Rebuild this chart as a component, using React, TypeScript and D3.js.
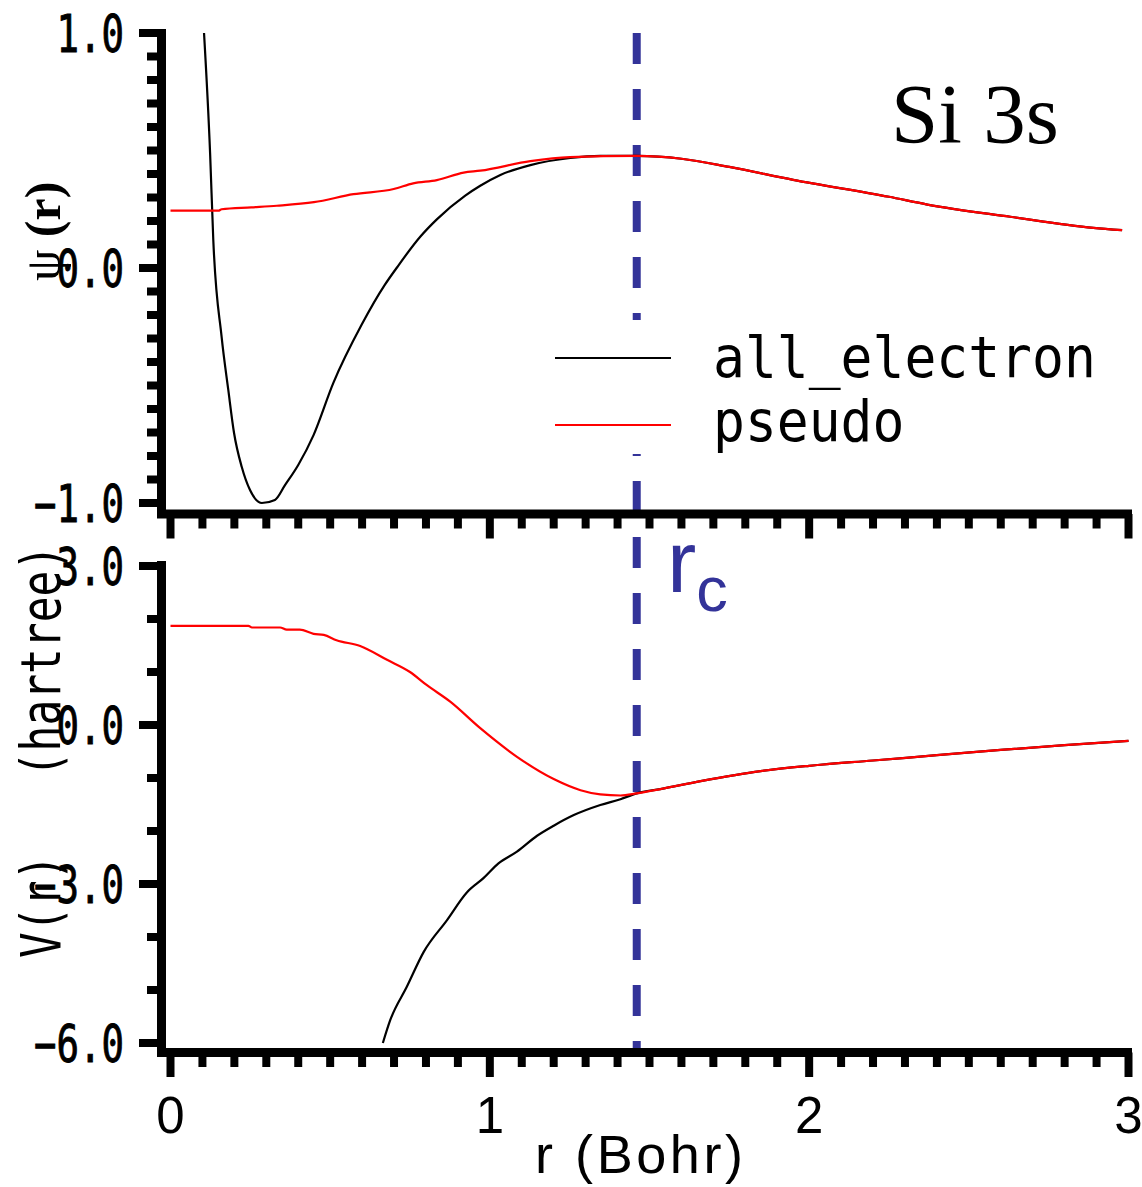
// Si 3s pseudopotential figure: wave function (top) and potential (bottom)
import React from "react";
import * as d3 from "d3";

// --- data ---
// top panel, psi(r)
const aePsiR = [0.105, 0.124, 0.134, 0.16, 0.181, 0.199, 0.223, 0.249, 0.286, 0.327, 0.359, 0.4, 0.448, 0.51, 0.598, 0.671, 0.708, 0.782, 0.834, 0.923, 0.97, 1.033, 1.127, 1.252, 1.346, 1.46];
const aePsi = [1.0, 0.489, 0.119, -0.292, -0.519, -0.702, -0.846, -0.945, -1.0, -0.987, -0.923, -0.838, -0.711, -0.489, -0.243, -0.072, 0.0, 0.133, 0.207, 0.308, 0.35, 0.396, 0.438, 0.468, 0.477, 0.477];
const psPsiR = [0, 0.15, 0.16, 0.253, 0.333, 0.449, 0.573, 0.699, 0.76, 0.834, 0.918, 0.97, 1.127, 1.25, 1.46];
const psPsi = [0.244, 0.244, 0.25, 0.258, 0.265, 0.28, 0.314, 0.336, 0.36, 0.374, 0.406, 0.414, 0.455, 0.472, 0.477];
// beyond rc both wave functions coincide
const tailPsiR = [1.6, 1.75, 1.95, 2.25, 2.37, 2.63, 2.89, 2.98];
const tailPsi = [0.465, 0.43, 0.375, 0.303, 0.27, 0.218, 0.171, 0.161];

// bottom panel, V(r) in hartree
const aeVR = [0.665, 0.688, 0.74, 0.793, 0.866, 0.928, 0.98, 1.027, 1.085, 1.148, 1.2, 1.263, 1.346, 1.409, 1.46];
const aeV = [-6.0, -5.57, -4.94, -4.28, -3.68, -3.16, -2.89, -2.61, -2.39, -2.09, -1.9, -1.7, -1.51, -1.4, -1.29];
const psVR = [0, 0.244, 0.255, 0.343, 0.364, 0.405, 0.448, 0.48, 0.52, 0.594, 0.678, 0.75, 0.802, 0.876, 0.97, 1.085, 1.2, 1.284, 1.346, 1.409, 1.46];
const psV = [1.87, 1.87, 1.84, 1.84, 1.8, 1.8, 1.72, 1.7, 1.6, 1.49, 1.23, 1.0, 0.755, 0.44, -0.06, -0.6, -1.02, -1.23, -1.31, -1.33, -1.29];
const tailVR = [1.534, 1.66, 1.848, 2.0, 2.2, 2.4, 2.6, 2.8, 3.0];
const tailV = [-1.21, -1.06, -0.87, -0.77, -0.67, -0.57, -0.47, -0.38, -0.3];

const rc = 1.46;
const xMajor = [0, 1, 2, 3];
const psiMajor = [-1, 0, 1];
const vMajor = [-6, -3, 0, 3];
const legendNames = ["all_electron", "pseudo"];
const colors = ["#000000", "#ff0000"];

const zip = (xs: number[], ys: number[]) => xs.map((x, i) => [x, ys[i]] as [number, number]);

const mono = "'DejaVu Sans Mono', monospace";
const sans = "'Liberation Sans', Arial, sans-serif";
const serif = "'Liberation Serif', 'Times New Roman', serif";

export default function App() {
  const W = 1142, H = 1187;
  const x = d3.scaleLinear().domain([0, 3]).range([170.5, 1128.5]);
  const yTop = d3.scaleLinear().domain([-1, 1]).range([503, 33]);
  const yBot = d3.scaleLinear().domain([-6, 3]).range([1043, 566]);
  const fmt = d3.format(".1f");

  const lineTop = d3.line<[number, number]>().x(d => x(d[0])).y(d => yTop(d[1])).curve(d3.curveMonotoneX);
  const lineBot = d3.line<[number, number]>().x(d => x(d[0])).y(d => yBot(d[1])).curve(d3.curveMonotoneX);

  const psiAE = zip(aePsiR, aePsi).concat(zip(tailPsiR, tailPsi));
  const psiPS = zip(psPsiR, psPsi).concat(zip(tailPsiR, tailPsi));
  const vAE = zip(aeVR, aeV).concat(zip(tailVR, tailV));
  const vPS = zip(psVR, psV).concat(zip(tailVR, tailV));

  const axisX = 161.5;
  const xAxis = (yLine: number, key: string) => (
    <g key={key}>
      {x.ticks(30).map((t, i) => (
        <line key={i} x1={x(t)} x2={x(t)} y1={yLine} y2={yLine + (xMajor.includes(Math.round(t * 10) / 10) ? 24.5 : 14.5)} stroke="#000" strokeWidth={8} />
      ))}
      <line x1={157} x2={1132} y1={yLine} y2={yLine} stroke="#000" strokeWidth={9} />
    </g>
  );
  const yAxis = (scale: d3.ScaleLinear<number, number>, minor: number[], major: number[], top: number, bottom: number, key: string) => (
    <g key={key}>
      {minor.map((t, i) => (
        <line key={i} x1={major.includes(Math.round(t * 10) / 10) ? 139 : 147} x2={axisX} y1={scale(t)} y2={scale(t)} stroke="#000" strokeWidth={8} />
      ))}
      <line x1={axisX} x2={axisX} y1={top} y2={bottom} stroke="#000" strokeWidth={9} />
      {major.map((t, i) => (
        <text key={"l" + i} transform={`translate(124,${scale(t) + 18.5}) scale(1,1.36)`} textAnchor="end" fontFamily={mono} fontSize={37.4} fill="#000" stroke="#000" strokeWidth={0.7}>
          {fmt(t)}
        </text>
      ))}
    </g>
  );

  return (
    <svg width={W} height={H} style={{ position: "absolute", left: 0, top: 0, background: "#fff" }}>
      <rect width={W} height={H} fill="#fff" />

      {/* rc marker */}
      <line x1={x(rc)} x2={x(rc)} y1={33} y2={1048} stroke="#333399" strokeWidth={8} strokeDasharray="31 25" />

      {/* curves */}
      <path d={lineTop(psiAE) || ""} fill="none" stroke={colors[0]} strokeWidth={2.2} />
      <path d={lineTop(psiPS) || ""} fill="none" stroke={colors[1]} strokeWidth={2.2} />
      <path d={lineBot(vAE) || ""} fill="none" stroke={colors[0]} strokeWidth={2.2} />
      <path d={lineBot(vPS) || ""} fill="none" stroke={colors[1]} strokeWidth={2.2} />

      {/* axes */}
      {yAxis(yTop, yTop.ticks(20), psiMajor, 29, 518, "yt")}
      {xAxis(514, "xt")}
      {yAxis(yBot, yBot.ticks(9), vMajor, 561, 1057, "yb")}
      {xAxis(1052.5, "xb")}
      {xMajor.map((t, i) => (
        <text key={i} x={x(t)} y={1133} textAnchor="middle" fontFamily={sans} fontSize={51} fill="#000">{t}</text>
      ))}

      {/* axis titles */}
      <text x={535} y={1173} fontFamily={sans} fontSize={54} textLength={208} lengthAdjust="spacing" fill="#000">r (Bohr)</text>
      <text transform="translate(60,281) rotate(-90)" fontFamily={serif} fontSize={50} fill="#000">
        ψ<tspan fontWeight="bold"> (r)</tspan>
      </text>
      <text transform="translate(60,958) rotate(-90) scale(1,1.29)" fontFamily={mono} fontSize={42.9} fill="#000" style={{ whiteSpace: "pre" }}>
        {"V(r)   (hartree)"}
      </text>

      {/* legend */}
      <rect x={545} y={320} width={560} height={134} fill="#fff" />
      {legendNames.map((name, i) => (
        <g key={name}>
          <line x1={555} x2={671} y1={358 + i * 67} y2={358 + i * 67} stroke={colors[i]} strokeWidth={2} />
          <text transform={`translate(713,${377 + i * 64}) scale(1,1.09)`} fontFamily={mono} fontSize={53} fill="#000">{name}</text>
        </g>
      ))}

      {/* annotations */}
      <text x={891} y={143} fontFamily={serif} fontSize={85} fill="#000">Si 3s</text>
      <text x={667} y={592} fontFamily={sans} fontSize={88} fill="#333399">
        r<tspan fontSize={63} dy={19}>c</tspan>
      </text>
    </svg>
  );
}
